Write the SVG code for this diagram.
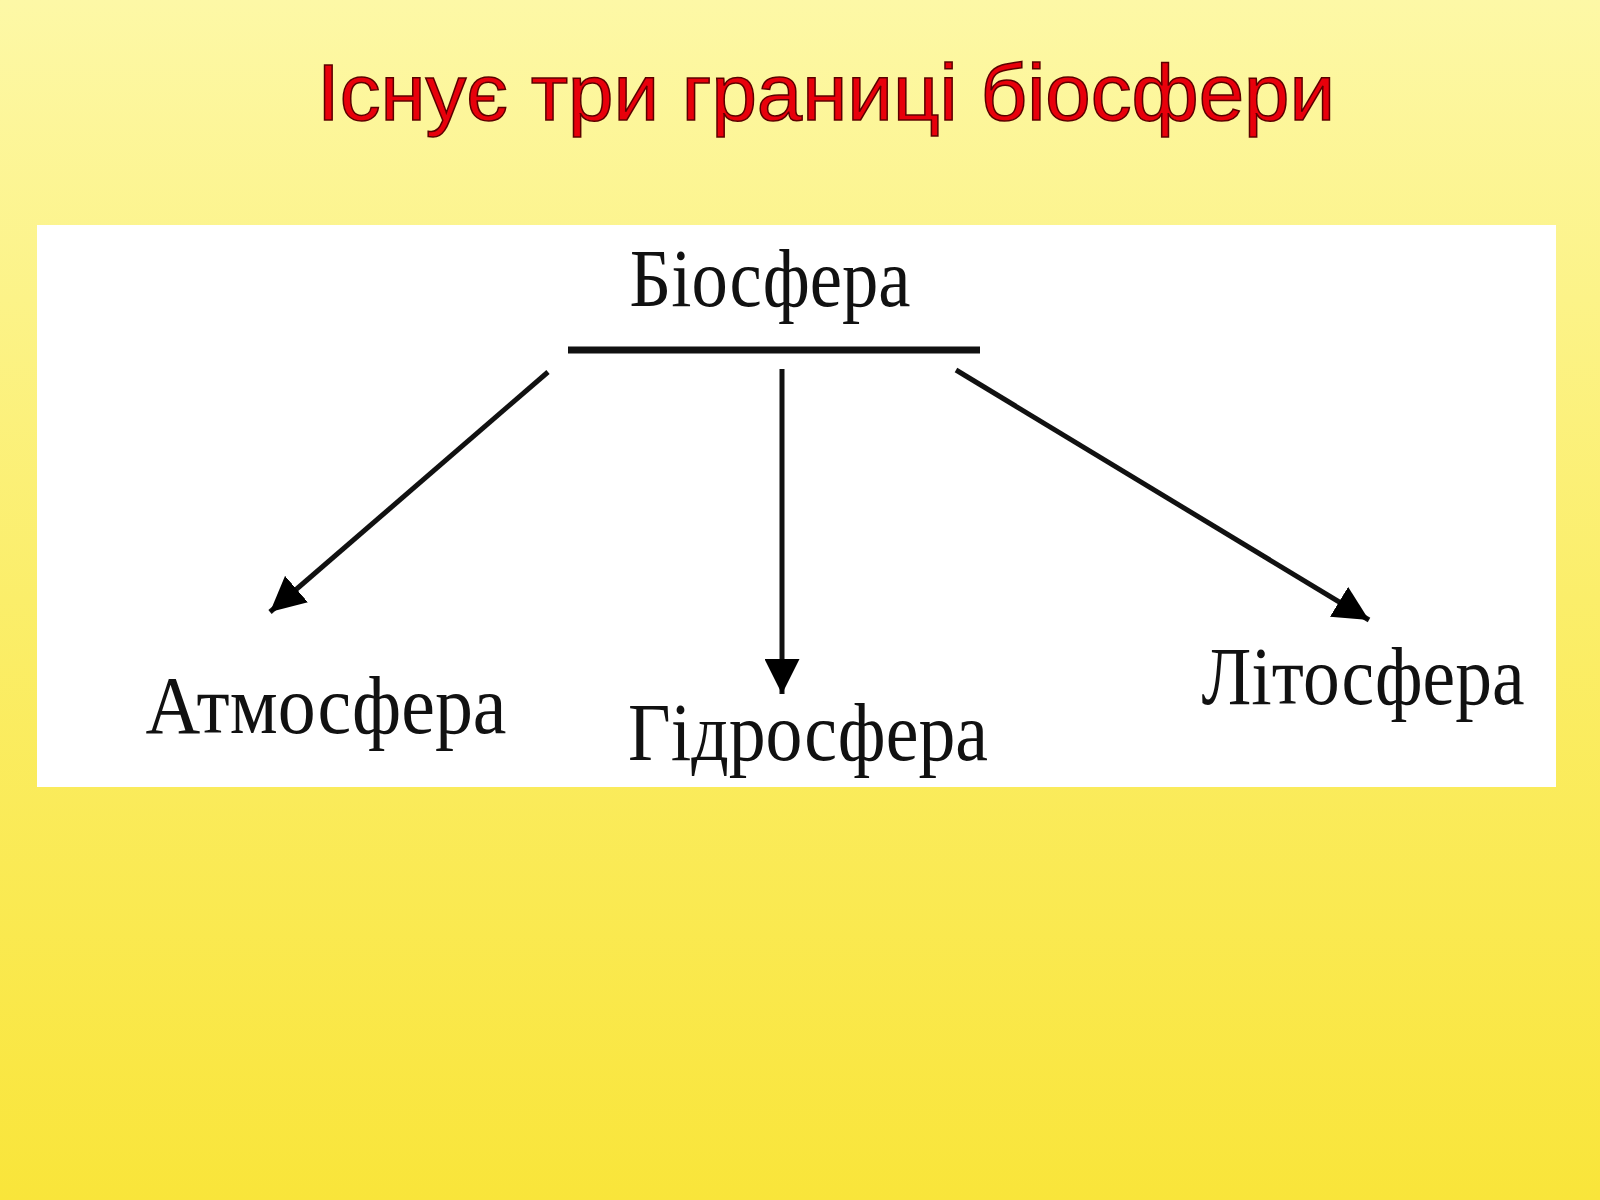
<svg xmlns="http://www.w3.org/2000/svg" width="1600" height="1200" viewBox="0 0 1600 1200">
<defs>
<linearGradient id="bg" x1="0" y1="0" x2="0" y2="1">
<stop offset="0" stop-color="#fdf8a6"/><stop offset="0.5" stop-color="#fbee6a"/><stop offset="1" stop-color="#f9e53a"/>
</linearGradient>
<marker id="ah" viewBox="0 0 10 10" refX="10" refY="5" markerWidth="7" markerHeight="7" markerUnits="strokeWidth" orient="auto"><path d="M0,0 L10,5 L0,10 z" fill="#000"/></marker>
<style>
.lbl{font-family:"Liberation Serif",serif;font-size:82px;fill:#111;text-anchor:middle}
.con{stroke:#111;stroke-width:5;fill:none}
</style>
</defs>
<rect width="1600" height="1200" fill="url(#bg)"/>
<text x="826" y="120" text-anchor="middle" font-family="Liberation Sans, Arial, sans-serif" font-size="80" fill="#e8000b" stroke="#5a0000" stroke-width="1.5" textLength="1018" lengthAdjust="spacingAndGlyphs">Існує три границі біосфери</text>
<rect x="37" y="225" width="1519" height="562" fill="#fff"/>
<g id="biosfera"><text class="lbl" x="770" y="306" textLength="281" lengthAdjust="spacingAndGlyphs">Біосфера</text>
<line x1="568" y1="350" x2="980" y2="350" stroke="#111" stroke-width="7"/></g>
<g id="connectors">
<line class="con" x1="548" y1="372" x2="270" y2="612" marker-end="url(#ah)"/>
<line class="con" x1="782" y1="369" x2="782" y2="694" marker-end="url(#ah)"/>
<line class="con" x1="956" y1="370" x2="1369" y2="620" marker-end="url(#ah)"/>
</g>
<g id="atmosfera"><text class="lbl" x="326" y="733" textLength="361" lengthAdjust="spacingAndGlyphs">Атмосфера</text></g>
<g id="gidrosfera"><text class="lbl" x="808" y="760" textLength="360" lengthAdjust="spacingAndGlyphs">Гідросфера</text></g>
<g id="litosfera"><text class="lbl" x="1363" y="704" textLength="323" lengthAdjust="spacingAndGlyphs">Літосфера</text></g>
</svg>
